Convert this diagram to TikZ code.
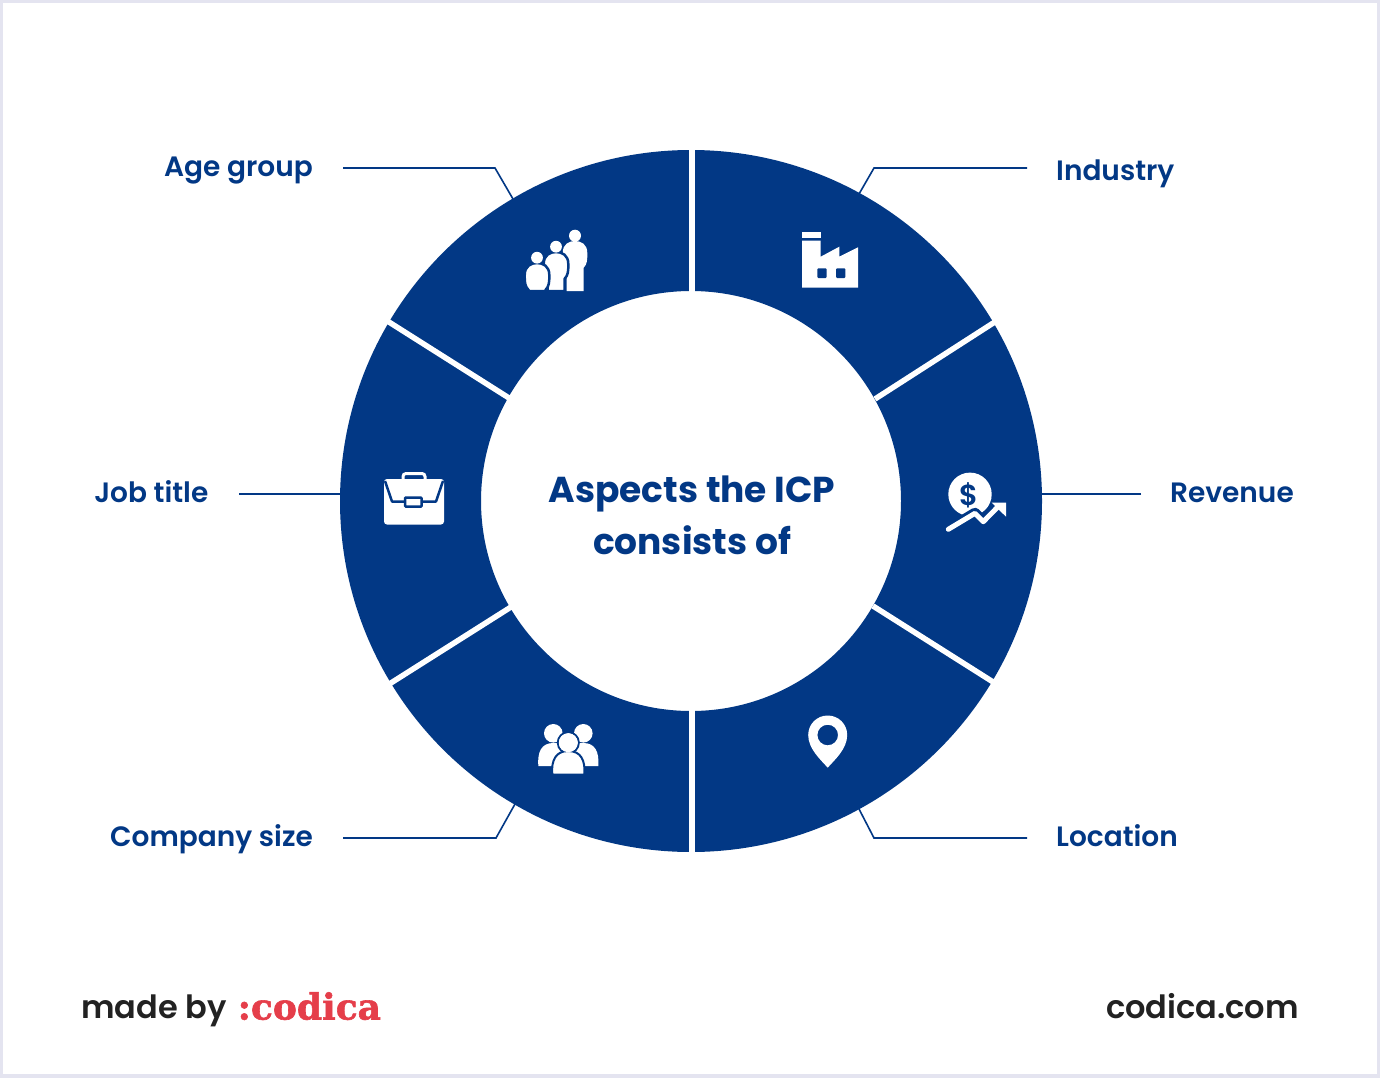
\documentclass[tikz,border=0pt]{standalone}
\usepackage{fontspec}
\usepackage{xcolor}
\setmainfont{Poppins}
\newfontfamily\semifont{Poppins SemiBold}
\newfontfamily\logofont[FakeBold=1.6]{DejaVu Serif Bold}
\definecolor{ringblue}{HTML}{023885}
\definecolor{framegrey}{HTML}{E4E4F0}
\definecolor{inkgrey}{HTML}{222222}
\definecolor{logored}{HTML}{E53E4A}
\tikzset{
label/.style = {text=ringblue, font=\semifont\fontsize{28}{32}\selectfont, inner xsep=0pt, inner ysep=0pt},
leader/.style = {draw=ringblue, line width=1.6pt},
divider/.style = {draw=white, line width=5.5pt},
icon/.style = {fill=white, draw=none},
halo/.style = {fill=white, draw=ringblue, line width=2.5pt},
}
\begin{document}
\begin{tikzpicture}[x=1pt, y=-1pt]
	\useasboundingbox (0, 0) rectangle (1380, 1078);
	\fill[framegrey] (0, 0) rectangle (1380, 1078);
	\fill[white] (3, 3) rectangle (1377, 1074);
	% ring
	\fill[ringblue, even odd rule] (691, 501) circle (351) (691, 501) circle (210);
	\node (0) at (692, 145) {};
	\node (1) at (692, 293) {};
	\node (2) at (692, 709) {};
	\node (3) at (692, 857) {};
	\node (4) at (1001, 318) {};
	\node (5) at (875, 399) {};
	\node (6) at (873, 606) {};
	\node (7) at (1001, 687) {};
	\node (8) at (381, 317) {};
	\node (9) at (509, 398) {};
	\node (10) at (511, 607) {};
	\node (11) at (383, 688) {};
	\draw[divider] (0.center) to (1.center);
	\draw[divider] (2.center) to (3.center);
	\draw[divider] (4.center) to (5.center);
	\draw[divider] (6.center) to (7.center);
	\draw[divider] (8.center) to (9.center);
	\draw[divider] (10.center) to (11.center);
	% labels
	\node[label, anchor=base east] (age) at (313, 177) {Age group};
	\node[label, anchor=base west] (industry) at (1056, 180) {Industry};
	\node[label, anchor=base east] (job) at (208.5, 502) {Job title};
	\node[label, anchor=base west] (revenue) at (1170, 502) {Revenue};
	\node[label, anchor=base east] (company) at (313, 846) {Company size};
	\node[label, anchor=base west] (location) at (1056, 846) {Location};
	\node[text=ringblue, font=\bfseries\fontsize{36}{52}\selectfont, align=center] (title) at (692, 515) {Aspects the ICP\\consists of};
	% leaders
	\node (12) at (343, 168) {};
	\node (13) at (495, 168) {};
	\node (14) at (513, 199) {};
	\node (15) at (1027, 168) {};
	\node (16) at (874, 168) {};
	\node (17) at (859, 194) {};
	\node (18) at (239, 494) {};
	\node (19) at (340, 494) {};
	\node (20) at (1141, 494) {};
	\node (21) at (1042, 494) {};
	\node (22) at (343, 838) {};
	\node (23) at (496, 838) {};
	\node (24) at (515, 804) {};
	\node (25) at (1027, 838) {};
	\node (26) at (874, 838) {};
	\node (27) at (859, 809) {};
	\draw[leader] (12.center) to (13.center) to (14.center);
	\draw[leader] (15.center) to (16.center) to (17.center);
	\draw[leader] (18.center) to (19.center);
	\draw[leader] (20.center) to (21.center);
	\draw[leader] (22.center) to (23.center) to (24.center);
	\draw[leader] (25.center) to (26.center) to (27.center);
	% age group icon
	\foreach \x/\b/\h/\s in {575/242/6/icon, 556/253/5.9/halo, 537/264/5.9/halo} {
		\path[\s] (\x-8.5, 291) -- (\x-8.5, \b+26) .. controls (\x-12.3, \b+22) and (\x-12.3, \b+18) .. (\x-12.3, \b+11) .. controls (\x-12.3, \b+2) and (\x-6, \b-1) .. (\x, \b-1) .. controls (\x+6, \b-1) and (\x+12.3, \b+2) .. (\x+12.3, \b+11) .. controls (\x+12.3, \b+18) and (\x+12.3, \b+22) .. (\x+8.5, \b+26) -- (\x+8.5, 291) -- cycle;
		\fill[white] (\x, \b-6.3) circle (\h);
	}
	% factory icon
	\fill[icon] (802, 232) rectangle (820.7, 237.7);
	\fill[icon] (802, 240.7) -- (820.7, 240.7) -- (820.7, 256.7) -- (839.3, 246.7) -- (839.3, 256.7) -- (858, 247.3) -- (858, 287.7) -- (802, 287.7) -- cycle;
	\fill[ringblue, rounded corners=1pt] (817.3, 268.3) rectangle (826.7, 278);
	\fill[ringblue, rounded corners=1pt] (836, 268.3) rectangle (845.3, 278);
	% revenue icon
	\fill[icon] (970, 494.3) circle (21.7);
	\node[text=ringblue, font=\semifont\fontsize{29}{30}\selectfont, inner sep=0pt] (dollar) at (969, 495) {\$};
	\draw[ringblue, line width=11pt, line join=round] (948.3, 529.3) -- (975, 513.3) -- (983.3, 521.7) -- (998, 506.7);
	\draw[white, line width=5pt, line cap=round, line join=round] (948.3, 529.3) -- (975, 513.3) -- (983.3, 521.7) -- (998, 506.7);
	\fill[icon] (1006, 502.7) -- (1006, 516.7) -- (991.7, 502.7) -- cycle;
	% briefcase icon
	\draw[white, line width=3pt, rounded corners=3pt] (403, 481) -- (403, 473.5) -- (425, 473.5) -- (425, 481);
	\fill[icon, rounded corners=3pt] (384, 479) rectangle (444, 524.5);
	\draw[ringblue, line width=2.5pt, line join=round] (385, 481) -- (392, 501.5) -- (405, 501.5);
	\draw[ringblue, line width=2.5pt, line join=round] (421.7, 501.5) -- (436, 501.5) -- (443, 481);
	\draw[ringblue, line width=2.5pt, rounded corners=1pt] (405, 497.5) rectangle (421.7, 506.7);
	% team icon
	\foreach \x/\o in {553.3/-1, 583.3/1} {
		\fill[icon] (\x, 733.3) circle (9.3);
		\fill[icon] (568, 766) -- (\x+15*\o, 766) .. controls (\x+16*\o, 752) and (\x+12*\o, 743) .. (\x, 743) .. controls (568, 743) and (568, 750) .. (568, 766) -- cycle;
	}
	\fill[icon, draw=ringblue, line width=2pt] (568.3, 742.7) circle (10.5);
	\path[halo, line width=2pt] (552.3, 774.5) .. controls (551, 760) and (556, 751) .. (568.3, 751) .. controls (580.6, 751) and (585.6, 760) .. (584.3, 774.5) -- cycle;
	\fill[icon] (568.3, 742.7) circle (9.5);
	% location icon
	\fill[icon, even odd rule] (827.7, 767.7) .. controls (821, 760) and (808.2, 749) .. (808.2, 735) .. controls (808.2, 724) and (817, 715.5) .. (827.7, 715.5) .. controls (838.4, 715.5) and (847.2, 724) .. (847.2, 735) .. controls (847.2, 749) and (834.4, 760) .. (827.7, 767.7) -- cycle (827.7, 735) circle (10.3);
	% footer
	\node[anchor=base west, inner sep=0pt, text=inkgrey, font=\semifont\fontsize{32}{38}\selectfont] (madeby) at (81, 1018) {made by};
	\node[anchor=base west, inner sep=0pt, text=logored, font=\logofont\fontsize{36}{38}\selectfont] (logo) at (237.5, 1019.5) {:codica};
	\node[anchor=base east, inner sep=0pt, text=inkgrey, font=\semifont\fontsize{32}{38}\selectfont] (site) at (1299, 1018) {codica.com};
\end{tikzpicture}
\end{document}
